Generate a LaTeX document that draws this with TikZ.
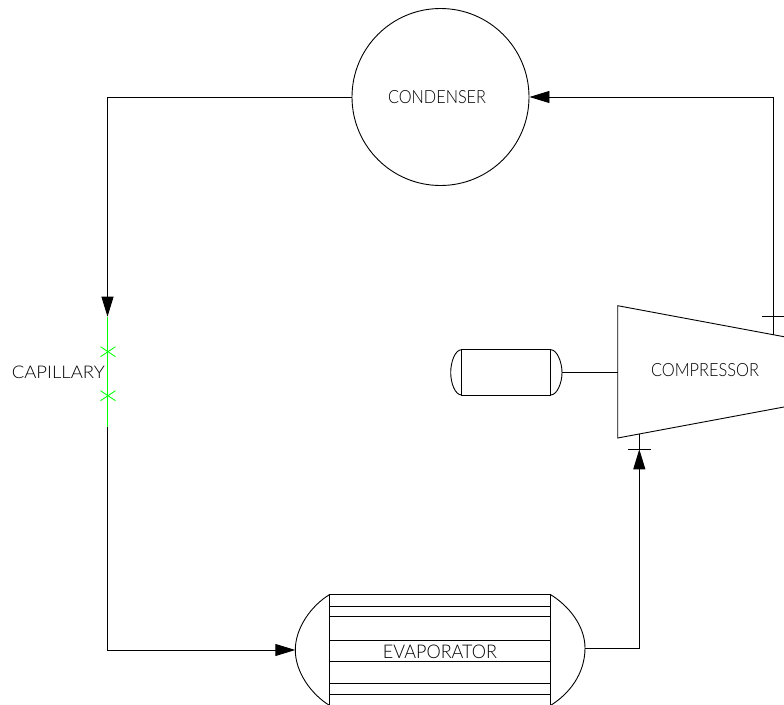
\documentclass[tikz,border=0pt]{standalone}
\usepackage{fontspec}
\usepackage{graphicx}
\setmainfont[UprightFont=* Light]{Lato}
\usetikzlibrary{arrows.meta}
\definecolor{capgreen}{RGB}{0,255,0}
\tikzset{
  line/.style={draw=black,line width=0.9pt},
  flow/.style={line,-{Triangle[length=20pt,width=12pt]}},
  capcross/.style={draw=capgreen,line width=0.8pt},
  label text/.style={inner sep=0pt,text=black}
}
\newcommand{\fit}[3]{\resizebox{#1pt}{#2pt}{#3}}
\begin{document}
\begin{tikzpicture}[x=1pt,y=-1pt]
\useasboundingbox (0,0) rectangle (784,704);
\clip (0,0) rectangle (784,704);
\fill[white] (0,0) rectangle (784,704);
% condenser
\node[circle,line,minimum size=177pt,inner sep=0pt] (condenser) at (440.5,97) {};
\node[label text] (condenserlabel) at (437,97) {\fit{98}{13}{CONDENSER}};
% compressor
\coordinate (ctl) at (617.7,305.7);
\coordinate (cbl) at (617.7,438);
\coordinate (ctr) at (800,339.7);
\coordinate (cbr) at (800,404);
\draw[line,line join=miter] (ctr) -- (ctl) -- (cbl) -- (cbr);
\node[label text] (compressorlabel) at (705,370.5) {\fit{108}{13}{COMPRESSOR}};
\coordinate (cwest) at (617.7,372.7);
\coordinate (cout) at (773,334.6);
\coordinate (cin) at (639.3,434);
% oil vessel
\coordinate (vtl) at (461.7,349.7);
\coordinate (vbl) at (461.7,395);
\coordinate (vtr) at (550.7,349.7);
\coordinate (vbr) at (550.7,395);
\coordinate (vw) at (450.7,372.5);
\coordinate (ve) at (562,372.7);
\draw[line] (vtl) rectangle (vbr);
\draw[line] (vtl) .. controls (455,349.7) and (450.7,362) .. (vw) .. controls (450.7,383) and (455,395) .. (vbl);
\draw[line] (vtr) .. controls (557,349.7) and (562,362) .. (ve) .. controls (562,383) and (557,395) .. (vbr);
\draw[line] (ve) -- (cwest);
% evaporator
\coordinate (etl) at (329.3,594.7);
\coordinate (ebr) at (550.7,705.3);
\coordinate (etr) at (550.7,594.7);
\coordinate (ebl) at (329.3,705.3);
\coordinate (ew) at (295.3,650);
\coordinate (ee) at (585,648);
\draw[line] (etl) rectangle (ebr);
\foreach \yy in {606,616.7,640,661.7,683.7,694.7}
  \draw[line] (329.3,\yy) -- (550.7,\yy);
\draw[line] (etl) .. controls (311,606) and (295.3,628) .. (ew) .. controls (295.3,672) and (311,694) .. (ebl);
\draw[line] (etr) .. controls (569,606) and (585,626) .. (ee) .. controls (585,674) and (569,694) .. (ebr);
\node[label text] (evaporatorlabel) at (440,652) {\fit{114}{13.5}{EVAPORATOR}};
% ticks
\coordinate (t1a) at (762,316.7);
\coordinate (t1b) at (784,316.7);
\coordinate (t2a) at (628,449.3);
\coordinate (t2b) at (651,449.3);
\coordinate (t2) at (639.3,449.3);
\draw[line] (t1a) -- (t1b);
\draw[line] (t2a) -- (t2b);
\draw[line] (t2) -- (cin);
% capillary
\coordinate (capin) at (107.5,316.7);
\coordinate (capout) at (107.5,426.7);
\node[label text] (capillarylabel) at (58.3,372) {\fit{93}{12.5}{CAPILLARY}};
% connectors
\draw[flow] (condenser.west) -| (capin);
\draw[flow] (capout) |- (ew);
\draw[flow] (cout) |- (condenser.east);
\draw[flow] (ee) -| (t2);
% capillary line on top
\fill[capgreen] (106.7,316.7) rectangle (108.3,426.7);
\foreach \yy in {351.7,395.7} {
  \draw[capcross] (100.5,\yy-5) -- (115.5,\yy+5);
  \draw[capcross] (100.5,\yy+5) -- (115.5,\yy-5);
}
\end{tikzpicture}
\end{document}
